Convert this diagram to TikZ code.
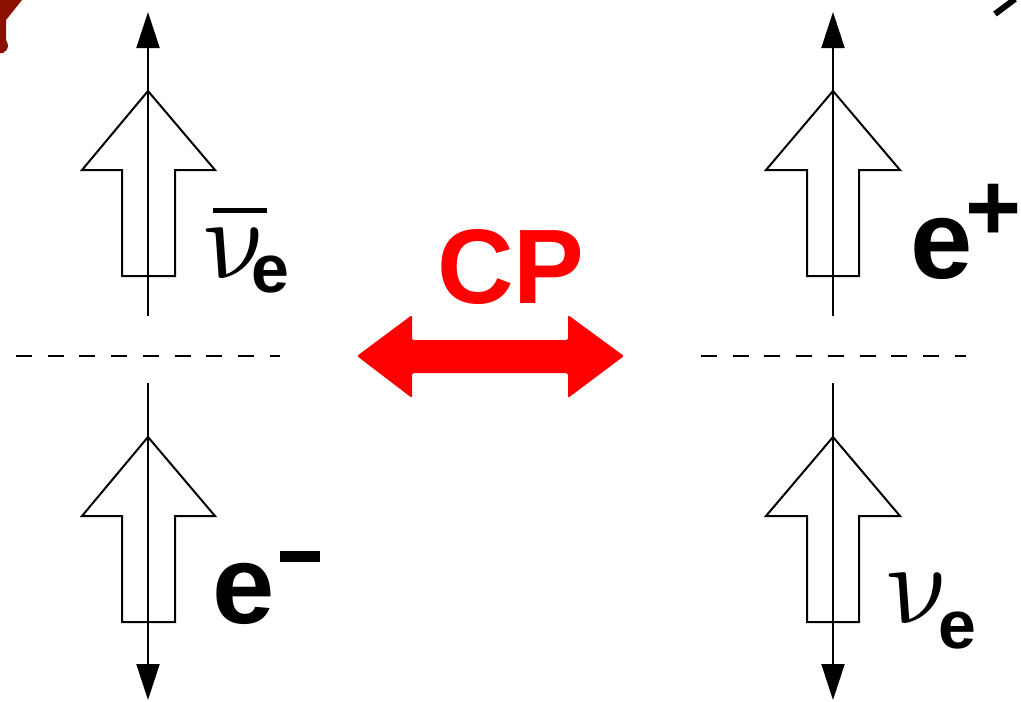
\documentclass[tikz,border=0pt]{standalone}
\usepackage{fontspec}
\usepackage{graphicx}
\setmainfont{Liberation Sans}
\usetikzlibrary{arrows.meta}
\definecolor{cpred}{RGB}{255,0,0}
\definecolor{darkred}{RGB}{140,16,0}
\tikzset{
  spinarrow/.style={draw=black, line width=2pt, fill=white, line join=miter},
  axisline/.style={draw=black, line width=2pt, -{Triangle[length=36pt,width=23pt]}},
  sepline/.style={draw=black, line width=2pt, dash pattern=on 16pt off 15.7pt},
  lbl/.style={inner sep=0pt, font=\bfseries},
  nulbl/.style={inner sep=0pt, anchor=base west, xslant=-0.32, transform shape},
}
\newcommand{\bignu}{\scalebox{11.5}{$\nu$}}
\begin{document}
\begin{tikzpicture}[x=1pt,y=-1pt]
\useasboundingbox (0,0) rectangle (1021,702);
% corner fragments
\fill[darkred] (0,0) -- (22,0) -- (6,20) -- (6,40) .. controls (9,44) and (9,50) .. (3,53) -- (0,53) -- cycle;
\draw[line width=6pt, black] (995,14) -- (1015,-1);

% left group
\coordinate (LT) at (148,316);
\coordinate (LTtip) at (148,12);
\coordinate (LB) at (148,383);
\coordinate (LBtip) at (148,700);
\draw[axisline] (LT) -- (LTtip);
\draw[axisline] (LB) -- (LBtip);
\path[spinarrow] (148,91) -- (215,170) -- (175,170) -- (175,276) -- (122,276) -- (122,170) -- (82,170) -- cycle;
\path[spinarrow] (148,437) -- (215,516) -- (175,516) -- (175,622) -- (122,622) -- (122,516) -- (82,516) -- cycle;
\draw[black, line width=2pt] (148,91) -- (148,276);
\draw[black, line width=2pt] (148,437) -- (148,622);

% right group
\coordinate (RT) at (833,316);
\coordinate (RTtip) at (833,12);
\coordinate (RB) at (833,383);
\coordinate (RBtip) at (833,700);
\draw[axisline] (RT) -- (RTtip);
\draw[axisline] (RB) -- (RBtip);
\path[spinarrow] (833,91) -- (900,170) -- (859,170) -- (859,276) -- (807,276) -- (807,170) -- (766,170) -- cycle;
\path[spinarrow] (833,437) -- (900,516) -- (859,516) -- (859,622) -- (807,622) -- (807,516) -- (766,516) -- cycle;
\draw[black, line width=2pt] (833,91) -- (833,276);
\draw[black, line width=2pt] (833,437) -- (833,622);

% dashed separators
\coordinate (DL1) at (16,356);
\coordinate (DL2) at (280,356);
\coordinate (DR1) at (701,356);
\coordinate (DR2) at (966,356);
\draw[sepline] (DL1) -- (DL2);
\draw[sepline] (DR1) -- (DR2);

% CP arrow
\fill[cpred, rounded corners=1.5pt] (357,356) -- (412,315) -- (412,340) -- (568,340) -- (568,315) -- (624,356) -- (568,398) -- (568,373) -- (412,373) -- (412,398) -- cycle;
\node[lbl, text=cpred, font=\fontsize{106}{106}\selectfont\bfseries, anchor=base] (cp) at (511,303) {CP};

% labels
\begin{scope}[shift={(213,278)}]
\node[nulbl] (nubar) at (0,0) {\bignu};
\end{scope}
\draw[black, line width=5pt] (213,210.5) -- (267,210.5);
\node[lbl, anchor=base west, font=\fontsize{68}{68}\selectfont\bfseries] (nubare) at (251,292) {e};

\node[lbl, anchor=base west, font=\fontsize{112}{112}\selectfont\bfseries] (ep) at (910,278) {e};
\node[lbl, anchor=base west, font=\fontsize{96}{96}\selectfont\bfseries] (epplus) at (965,240) {+};

\node[lbl, anchor=base west, font=\fontsize{112}{112}\selectfont\bfseries] (em) at (212,623) {e};
\draw[black, line width=11pt] (280,556.5) -- (320,556.5);

\begin{scope}[shift={(896,623)}]
\node[nulbl] (nu) at (0,0) {\bignu};
\end{scope}
\node[lbl, anchor=base west, font=\fontsize{68}{68}\selectfont\bfseries] (nue) at (938,648) {e};
\end{tikzpicture}
\end{document}
